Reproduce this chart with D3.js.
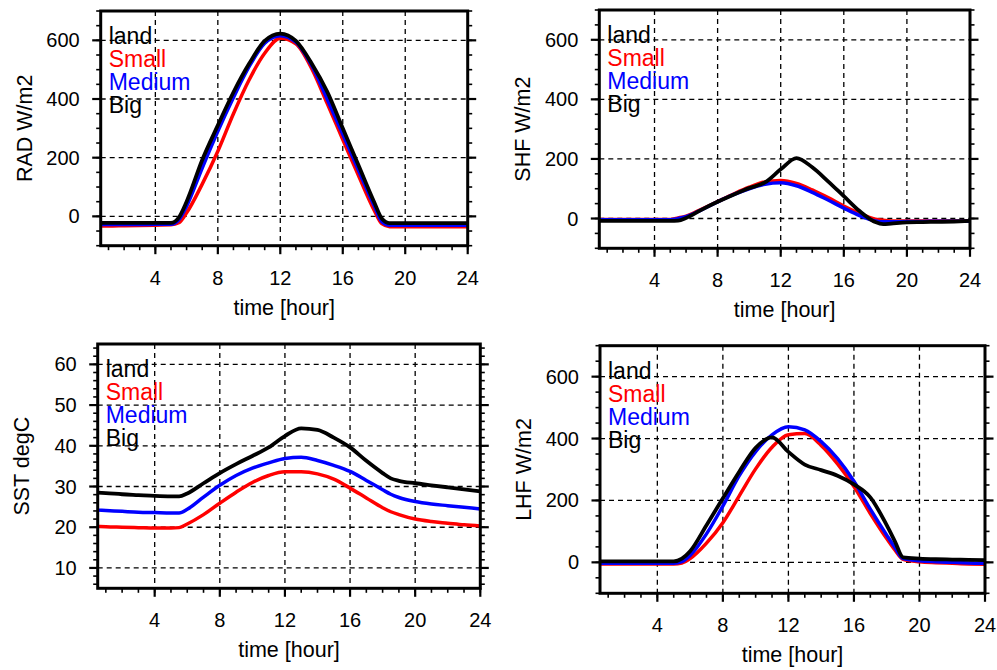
<!DOCTYPE html>
<html>
<head>
<meta charset="utf-8">
<script src="https://cdn.jsdelivr.net/npm/d3@7"></script>
<style>
  body { margin: 0; background: #fff; }
  svg { display: block; font-family: "Liberation Sans", Arial, Helvetica, sans-serif; }
</style>
</head>
<body>
<script>
// time axis (hours), shared by every panel
var hours = [0.5, 1, 2, 3, 4, 5, 5.5, 6, 7, 8, 9, 10, 11, 12, 13, 14, 15, 16, 17, 18, 18.5, 19, 20, 21, 22, 23, 24];
var xTicks = [4, 8, 12, 16, 20, 24];
var legendNames = ["land", "Small", "Medium", "Big"];

// RAD W/m2
var radSmall  = [-33, -33, -32, -31, -30, -29, -22, 12, 110, 222, 350, 465, 556, 607, 588, 505, 385, 262, 140, 22, -25, -35, -35, -35, -35, -35, -35];
var radMedium = [-28, -28, -28, -28, -27, -27, -12, 35, 165, 290, 405, 510, 590, 616, 594, 515, 400, 280, 158, 38, -18, -30, -30, -30, -30, -30, -30];
var radBig    = [-22, -22, -22, -22, -22, -22, -4, 50, 192, 310, 423, 520, 598, 623, 598, 522, 425, 300, 175, 50, -7, -23, -23, -23, -23, -23, -23];

// SHF W/m2
var shfSmall  = [-3, -3, -3, -3, -3, -3, 2, 8, 32, 57, 82, 105, 123, 128, 118, 96, 70, 42, 17, -2, -6, -8, -8, -8, -8, -8, -8];
var shfMedium = [-4, -4, -4, -4, -4, -4, 0, 6, 30, 56, 80, 100, 115, 120, 110, 88, 62, 35, 10, -8, -11, -11, -10, -10, -9, -9, -9];
var shfBig    = [-8, -8, -8, -8, -8, -8, -7, 2, 30, 56, 80, 102, 121, 165, 203, 172, 125, 75, 25, -12, -19, -17, -13, -12, -11, -10, -8];

// SST degC
var sstSmall  = [20.2, 20.1, 20.0, 19.9, 19.8, 19.8, 19.9, 20.8, 23.1, 25.9, 28.6, 31.0, 32.7, 33.6, 33.6, 33.1, 31.8, 29.6, 27.2, 24.8, 23.8, 23.1, 22.0, 21.4, 21.0, 20.6, 20.3];
var sstMedium = [24.2, 24.1, 23.9, 23.7, 23.6, 23.5, 23.5, 24.4, 27.4, 30.3, 32.7, 34.5, 35.8, 36.9, 37.2, 36.4, 35.2, 33.7, 31.5, 29.2, 28.1, 27.3, 26.3, 25.7, 25.3, 24.9, 24.5];
var sstBig    = [28.5, 28.4, 28.1, 27.9, 27.7, 27.6, 27.6, 28.3, 30.8, 33.3, 35.5, 37.5, 39.6, 42.4, 44.3, 43.9, 42.0, 39.6, 36.3, 33.3, 32.0, 31.4, 30.8, 30.3, 29.8, 29.3, 28.8];

// LHF W/m2
var lhfSmall  = [-5, -5, -5, -5, -5, -5, -2, 12, 62, 128, 215, 302, 372, 412, 416, 378, 318, 245, 158, 77, 40, 10, 2, -1, -3, -5, -6];
var lhfMedium = [-3, -3, -3, -3, -3, -3, 2, 22, 92, 182, 280, 358, 412, 438, 428, 390, 335, 262, 172, 88, 48, 12, 5, 2, 0, -2, -3];
var lhfBig    = [3, 3, 3, 3, 3, 3, 12, 36, 120, 207, 293, 370, 404, 357, 316, 298, 280, 252, 210, 120, 68, 16, 12, 10, 9, 8, 7];

var wfTicks = [0, 200, 400, 600];
var sstTicks = [10, 20, 30, 40, 50, 60];

var panels = [
  { title: "RAD W/m2", left: 100.7, top: 11, right: 467.7, bottom: 245.7, yDomain: [-100, 700], yTicks: wfTicks, yMinor: 50, series: [radSmall, radMedium, radBig] },
  { title: "SHF W/m2", left: 599.3, top: 10, right: 970, bottom: 248.3, yDomain: [-100, 700], yTicks: wfTicks, yMinor: 50, series: [shfSmall, shfMedium, shfBig] },
  { title: "SST degC", left: 97.7, top: 344, right: 480.3, bottom: 588.3, yDomain: [5, 65], yTicks: sstTicks, yMinor: 2, series: [sstSmall, sstMedium, sstBig] },
  { title: "LHF W/m2", left: 600, top: 345.7, right: 985, bottom: 593.3, yDomain: [-100, 700], yTicks: wfTicks, yMinor: 50, series: [lhfSmall, lhfMedium, lhfBig] }
];

var lineColors = ["#ff0000", "#0000ff", "#000000"];
var legendColors = ["#000000", "#ff0000", "#0000ff", "#000000"];

var svg = d3.select("body").append("svg")
  .attr("width", 997)
  .attr("height", 670);

function drawPanel(p) {
  var x = d3.scaleLinear().domain([0.5, 24]).range([p.left, p.right]);
  var y = d3.scaleLinear().domain(p.yDomain).range([p.bottom, p.top]);
  var g = svg.append("g");

  // dashed grid
  g.selectAll(".vgrid")
    .data(xTicks.filter(function(t) { return t < 24; }))
    .enter().append("line")
    .attr("x1", function(d) { return x(d); }).attr("x2", function(d) { return x(d); })
    .attr("y1", p.top).attr("y2", p.bottom)
    .attr("stroke", "#000").attr("stroke-width", 1.3).attr("stroke-dasharray", "5,4");
  g.selectAll(".hgrid")
    .data(p.yTicks)
    .enter().append("line")
    .attr("x1", p.left).attr("x2", p.right)
    .attr("y1", function(d) { return y(d); }).attr("y2", function(d) { return y(d); })
    .attr("stroke", "#000").attr("stroke-width", 1.3).attr("stroke-dasharray", "5,4");

  // legend text
  legendNames.forEach(function(name, i) {
    g.append("text")
      .attr("x", p.left + 8)
      .attr("y", p.top + 33 + i * 23)
      .attr("font-size", 23)
      .attr("fill", legendColors[i])
      .text(name);
  });

  // curves
  var line = d3.line()
    .x(function(d, i) { return x(hours[i]); })
    .y(function(d) { return y(d); })
    .curve(d3.curveMonotoneX);
  p.series.forEach(function(s, i) {
    g.append("path")
      .attr("d", line(s))
      .attr("fill", "none")
      .attr("stroke", lineColors[i])
      .attr("stroke-width", i == 2 ? 3.8 : 3.5)
      .attr("stroke-linejoin", "round");
  });

  // ticks: y major/minor on both sides
  var yMinorTicks = d3.range(Math.ceil(p.yDomain[0] / p.yMinor) * p.yMinor, p.yDomain[1] + 0.001, p.yMinor);
  [p.left, p.right].forEach(function(xe, side) {
    var dir = side == 0 ? -1 : 1;
    g.selectAll(null).data(yMinorTicks).enter().append("line")
      .attr("x1", xe).attr("x2", xe + dir * 4.5)
      .attr("y1", function(d) { return y(d); }).attr("y2", function(d) { return y(d); })
      .attr("stroke", "#000").attr("stroke-width", 1.6);
    g.selectAll(null).data(p.yTicks).enter().append("line")
      .attr("x1", xe).attr("x2", xe + dir * 8.5)
      .attr("y1", function(d) { return y(d); }).attr("y2", function(d) { return y(d); })
      .attr("stroke", "#000").attr("stroke-width", 2.2);
  });
  var xMinorTicks = d3.range(1, 25, 1);
  g.selectAll(null).data(xMinorTicks).enter().append("line")
    .attr("x1", function(d) { return x(d); }).attr("x2", function(d) { return x(d); })
    .attr("y1", p.bottom).attr("y2", p.bottom + 4.5)
    .attr("stroke", "#000").attr("stroke-width", 1.6);
  g.selectAll(null).data(xTicks).enter().append("line")
    .attr("x1", function(d) { return x(d); }).attr("x2", function(d) { return x(d); })
    .attr("y1", p.bottom).attr("y2", p.bottom + 8.5)
    .attr("stroke", "#000").attr("stroke-width", 2.2);

  // frame
  g.append("rect")
    .attr("x", p.left).attr("y", p.top)
    .attr("width", p.right - p.left).attr("height", p.bottom - p.top)
    .attr("fill", "none").attr("stroke", "#000").attr("stroke-width", 3);

  // tick labels
  g.selectAll(null).data(p.yTicks).enter().append("text")
    .attr("x", p.left - 21)
    .attr("y", function(d) { return y(d) + 7; })
    .attr("text-anchor", "end")
    .attr("font-size", 20)
    .text(function(d) { return d; });
  g.selectAll(null).data(xTicks).enter().append("text")
    .attr("x", function(d) { return x(d); })
    .attr("y", p.bottom + 39)
    .attr("text-anchor", "middle")
    .attr("font-size", 20)
    .text(function(d) { return d; });

  // axis titles
  g.append("text")
    .attr("x", (p.left + p.right) / 2)
    .attr("y", p.bottom + 69)
    .attr("text-anchor", "middle")
    .attr("font-size", 21.5)
    .text("time [hour]");
  g.append("text")
    .attr("transform", "translate(" + (p.left - 69) + "," + ((p.top + p.bottom) / 2) + ") rotate(-90)")
    .attr("text-anchor", "middle")
    .attr("font-size", 21.5)
    .text(p.title);
}

panels.forEach(drawPanel);
</script>
</body>
</html>
